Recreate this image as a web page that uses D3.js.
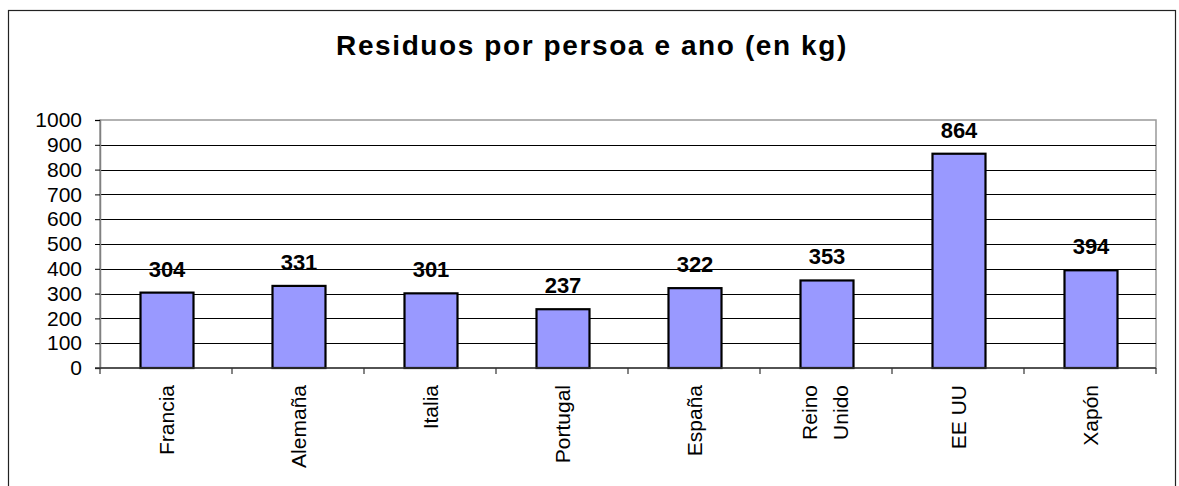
<!DOCTYPE html>
<html><head><meta charset="utf-8">
<script src="https://cdn.jsdelivr.net/npm/d3@7"></script>
<style>body{margin:0;background:#fff}svg{display:block;font-family:"Liberation Sans",Arial,sans-serif}</style>
</head><body>
<svg id="c" width="1179" height="486"></svg>
<script>
const categories = ["Francia","Alemaña","Italia","Portugal","España","Reino Unido","EE UU","Xapón"];
const values = [304,331,301,237,322,353,864,394];
const yTicks = [0,100,200,300,400,500,600,700,800,900,1000];
const title = "Residuos por persoa e ano (en kg)";

const svg = d3.select("#c");
const m = {left:100, right:1156, top:120, bottom:368};
svg.append("rect").attr("x",8.5).attr("y",10.5).attr("width",1167).attr("height",490)
  .attr("fill","#fff").attr("stroke","#222").attr("stroke-width",1.2);

const x = d3.scaleBand().domain(categories).range([m.left,m.right]).paddingInner(0).paddingOuter(0);
const y = d3.scaleLinear().domain([0,1000]).range([m.bottom,m.top]);

// plot border
svg.append("rect").attr("x",m.left).attr("y",m.top).attr("width",m.right-m.left).attr("height",m.bottom-m.top)
  .attr("fill","none").attr("stroke","#999").attr("stroke-width",1.5);
// grid
svg.append("g").selectAll("line").data(yTicks.filter(d=>d>0&&d<1000)).join("line")
  .attr("x1",m.left).attr("x2",m.right).attr("y1",d=>Math.round(y(d))+0.5).attr("y2",d=>Math.round(y(d))+0.5)
  .attr("stroke","#000").attr("stroke-width",1);

// y axis
const ya = svg.append("g").attr("transform",`translate(${m.left},0)`)
  .call(d3.axisLeft(y).tickValues(yTicks).tickSize(5).tickPadding(13).tickFormat(d3.format("d")));
ya.select(".domain").attr("stroke","#808080").attr("stroke-width",1.5);
ya.selectAll(".tick line").attr("stroke","#000");
ya.selectAll("text").attr("font-size",21).attr("fill","#000").attr("font-family","Liberation Sans, Arial, sans-serif");

// bars
const bw = 53;
svg.append("g").selectAll("rect").data(values).join("rect")
  .attr("x",(d,i)=>x(categories[i])+x.bandwidth()/2-bw/2+1)
  .attr("y",d=>y(d)).attr("width",bw).attr("height",d=>y(0)-y(d))
  .attr("fill","#9999ff").attr("stroke","#000").attr("stroke-width",2.2);

// x axis line + ticks at category boundaries
svg.append("line").attr("x1",m.left-5).attr("x2",m.right).attr("y1",m.bottom).attr("y2",m.bottom)
  .attr("stroke","#333").attr("stroke-width",1.5);
const bounds = categories.map(c=>x(c)).concat([m.right]);
svg.append("g").selectAll("line").data(bounds).join("line")
  .attr("x1",d=>d).attr("x2",d=>d).attr("y1",m.bottom).attr("y2",m.bottom+6)
  .attr("stroke","#333").attr("stroke-width",1.2);

// value labels
svg.append("g").selectAll("text").data(values).join("text")
  .attr("x",(d,i)=>x(categories[i])+x.bandwidth()/2+1)
  .attr("y",d=>y(d)-16).attr("text-anchor","middle")
  .attr("font-size",22).attr("font-weight","bold").text(d=>d);

// category labels (rotated)
const cl = svg.append("g").selectAll("g").data(categories).join("g")
  .attr("transform",c=>`translate(${x(c)+x.bandwidth()/2},385) rotate(-90)`);
cl.each(function(c){
  const words = c==="Reino Unido" ? ["Reino","Unido"] : [c];
  const g = d3.select(this);
  words.forEach((w,j)=>{
    const off = words.length===1 ? 8 : (j===0 ? -9 : 22);
    g.append("text").attr("x",0).attr("y",off).attr("text-anchor","end")
      .attr("font-size",21).text(w);
  });
});

// title
svg.append("text").attr("x",592).attr("y",55).attr("text-anchor","middle")
  .attr("font-size",28).attr("font-weight","bold").attr("letter-spacing",1.6).text(title);
</script>
</body></html>
